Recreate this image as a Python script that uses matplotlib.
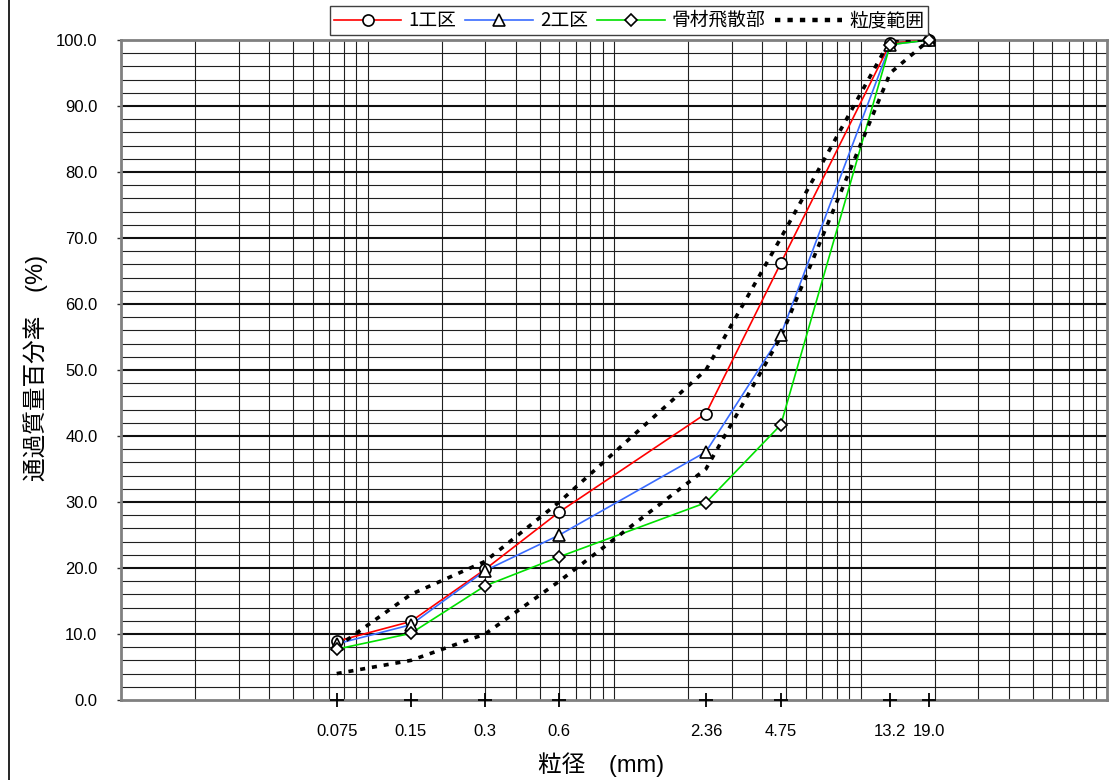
import numpy as np
import matplotlib.pyplot as plt
from matplotlib.lines import Line2D

# sieve sizes (mm) and passing percentages
sieve = [0.075, 0.15, 0.3, 0.6, 2.36, 4.75, 13.2, 19.0]
sieve_labels = ['0.075', '0.15', '0.3', '0.6', '2.36', '4.75', '13.2', '19.0']
area1 = [8.9, 11.9, 19.8, 28.5, 43.4, 66.2, 99.5, 100.0]
area2 = [8.5, 11.4, 19.6, 25.0, 37.6, 55.3, 99.3, 100.0]
scatter = [7.7, 10.1, 17.3, 21.7, 29.9, 41.7, 99.3, 100.0]
range_upper = [8, 16, 21, 30, 50, 70, 100, 100]
range_lower = [4, 6, 10, 18, 35, 55, 95, 100]

latin = 'Liberation Sans'
cjk = 'Noto Sans CJK JP'
plt.rcParams['font.family'] = [latin, cjk, 'DejaVu Sans']

fig = plt.figure(figsize=(11.16, 7.8), dpi=100)
ax = fig.add_axes([121/1116, 1-700/780, 986/1116, 660/780])
ax.set_xscale('log')
ax.set_xlim(0.01, 100)
ax.set_ylim(0, 100)

# grid lines
for dec in [0.01, 0.1, 1, 10]:
    for k in range(1, 10):
        v = dec * k
        if 0.01 < v < 100:
            ax.axvline(v, color='#202020', lw=0.8, zorder=1)
for v in range(2, 100, 2):
    if v % 10 == 0:
        ax.axhline(v, color='#101010', lw=1.5, zorder=1)
    else:
        ax.axhline(v, color='#202020', lw=0.8, zorder=1)

for s in ax.spines.values():
    s.set_color('#808080')
    s.set_linewidth(2)

ax.set_yticks(np.arange(0, 101, 10))
ax.set_yticklabels(['%.1f' % v for v in np.arange(0, 101, 10)], fontsize=12)
ax.tick_params(axis='y', length=3, width=1, color='#303030', pad=14)
ax.set_xticks(sieve)
ax.set_xticklabels(sieve_labels, fontsize=12)
ax.xaxis.set_minor_locator(plt.NullLocator())
ax.tick_params(axis='x', length=0, pad=17)
ax.plot(sieve, [0]*len(sieve), linestyle='none', marker='+', ms=10, mew=1.3,
        color='black', clip_on=False, zorder=5)

# series
dots = (0, (1.4, 1.9))
ax.plot(sieve, area1, color='#ff0000', lw=1.2, zorder=3)
ax.plot(sieve, area2, color='#3a6cff', lw=1.2, zorder=3)
ax.plot(sieve, scatter, color='#00e000', lw=1.2, zorder=3)
ax.plot(sieve, range_upper, color='black', lw=2.6, ls=dots, dash_capstyle='butt', zorder=3)
ax.plot(sieve, range_lower, color='black', lw=2.6, ls=dots, dash_capstyle='butt', zorder=3)
mk = dict(linestyle='none', mfc='white', mec='black', mew=1.2, zorder=6, clip_on=False)
ax.plot(sieve, area1, marker='o', ms=8, **mk)
ax.plot(sieve, area2, marker='^', ms=8, **mk)
ax.plot(sieve, scatter, marker='D', ms=6, **mk)

handles = [
    Line2D([], [], color='#ff0000', lw=1.2, marker='o', ms=8, mfc='white', mec='black', mew=1.2),
    Line2D([], [], color='#3a6cff', lw=1.2, marker='^', ms=8, mfc='white', mec='black', mew=1.2),
    Line2D([], [], color='#00e000', lw=1.2, marker='D', ms=6, mfc='white', mec='black', mew=1.2),
    Line2D([], [], color='black', lw=3.2, ls=(0, (1.2, 1.6)), dash_capstyle='butt'),
]
leg = fig.legend(handles, ['1工区', '2工区', '骨材飛散部', '粒度範囲'],
                 loc='upper center', bbox_to_anchor=(629/1116, 1-6/780), ncol=4,
                 fancybox=False, framealpha=1, edgecolor='#404040',
                 prop={'family': [cjk], 'size': 13.5}, handlelength=3.6,
                 columnspacing=0.5, handletextpad=0.37, borderpad=0.22,
                 borderaxespad=0)
leg.get_frame().set_linewidth(1.0)

fig.text(601/1116, 1-765/780, '粒径\u3000(mm)', fontsize=17, ha='center', va='center',
         family=[latin, cjk])
fig.text(36/1116, 1-368/780, '通過質量百分率\u3000(%)', fontsize=17, ha='center',
         va='center', rotation=90, family=[latin, cjk])

fig.add_artist(Line2D([9/1116, 9/1116], [0, 1], color='black', lw=1.2))

fig.savefig('out.png', dpi=100)
